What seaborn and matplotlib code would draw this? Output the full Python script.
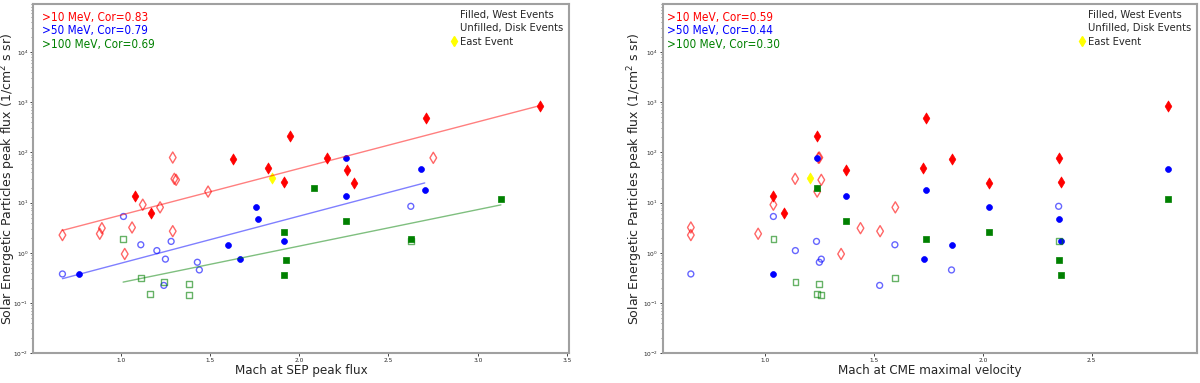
import numpy as np
import pandas as pd
import seaborn as sns
import matplotlib
matplotlib.use('Agg')
import matplotlib.pyplot as plt
from matplotlib.lines import Line2D
from matplotlib import font_manager

# >10 MeV, west (filled) events: peak flux, Mach at SEP peak, Mach at CME max velocity
p10_west_flux = [13.6, 6.3, 73.5, 49, 25.5, 212, 76, 45, 24.4, 486, 832]
p10_west_xsep = [1.082, 1.171, 1.627, 1.827, 1.917, 1.947, 2.156, 2.266, 2.305, 2.712, 3.349]
p10_west_xcme = [1.038, 1.089, 1.856, 1.726, 2.36, 1.239, 2.348, 1.37, 2.028, 1.737, 2.848]
# >10 MeV, disk (unfilled) events
p10_disk_flux = [2.26, 2.4, 3.1, 3.2, 0.95, 9.1, 8.05, 79, 29.8, 28.4, 2.7, 16.6, 78]
p10_disk_xsep = [0.673, 0.882, 0.894, 1.063, 1.022, 1.123, 1.22, 1.291, 1.30, 1.31, 1.291, 1.489, 2.751]
p10_disk_xcme = [0.659, 0.968, 1.438, 0.659, 1.349, 1.038, 1.598, 1.249, 1.138, 1.258, 1.528, 1.239, 1.245]
# >10 MeV, east event
p10_east_flux = [31]
p10_east_xsep = [1.848]
p10_east_xcme = [1.208]

# >50 MeV
p50_west_flux = [0.38, 1.45, 0.75, 8.3, 4.8, 1.69, 77, 13.6, 47, 17.9]
p50_west_xsep = [0.765, 1.6, 1.668, 1.758, 1.769, 1.917, 2.264, 2.264, 2.684, 2.703]
p50_west_xcme = [1.038, 1.856, 1.73, 2.028, 2.348, 2.36, 1.239, 1.37, 2.848, 1.737]
p50_disk_flux = [0.38, 5.3, 1.45, 1.11, 0.75, 1.69, 0.225, 0.65, 0.457, 8.45]
p50_disk_xsep = [0.673, 1.015, 1.112, 1.202, 1.25, 1.282, 1.241, 1.429, 1.44, 2.625]
p50_disk_xcme = [0.659, 1.038, 1.596, 1.139, 1.258, 1.236, 1.526, 1.249, 1.856, 2.348]

# >100 MeV
p100_west_flux = [19.7, 4.3, 11.8, 2.63, 0.72, 0.363, 1.9]
p100_west_xsep = [2.085, 2.264, 3.13, 1.917, 1.926, 1.917, 2.625]
p100_west_xcme = [1.239, 1.37, 2.848, 2.028, 2.348, 2.36, 1.737]
p100_disk_flux = [1.9, 0.316, 0.151, 0.26, 0.24, 0.145, 1.75]
p100_disk_xsep = [1.013, 1.112, 1.162, 1.241, 1.381, 1.381, 2.625]
p100_disk_xcme = [1.038, 1.598, 1.239, 1.139, 1.249, 1.258, 2.348]

cor_sep = ['0.83', '0.79', '0.69']
cor_cme = ['0.59', '0.44', '0.30']
energy_labels = ['>10 MeV', '>50 MeV', '>100 MeV']
colors = ['red', 'blue', 'green']
markers = ['d', 'o', 's']
msizes = [32, 18, 17]

sns.set_theme(style='white')
plt.rcParams['font.family'] = ['DejaVu Sans']

# pick a narrow face for the horizontal texts if one is installed
names = {(f.name, f.stretch) for f in font_manager.fontManager.ttflist}
if any(n == 'Liberation Sans Narrow' for n, _ in names):
    narrow = {'family': 'Liberation Sans Narrow'}
elif ('DejaVu Sans', 'condensed') in names:
    narrow = {'family': 'DejaVu Sans', 'stretch': 'condensed'}
else:
    narrow = {'family': 'Liberation Sans'}

series = [
    (p10_west_flux, p10_west_xsep, p10_west_xcme, p10_disk_flux, p10_disk_xsep, p10_disk_xcme),
    (p50_west_flux, p50_west_xsep, p50_west_xcme, p50_disk_flux, p50_disk_xsep, p50_disk_xcme),
    (p100_west_flux, p100_west_xsep, p100_west_xcme, p100_disk_flux, p100_disk_xsep, p100_disk_xcme),
]

fig = plt.figure(figsize=(12, 3.83), dpi=100)
ax1 = fig.add_axes([0.0278, 0.0775, 0.4466, 0.912])
ax2 = fig.add_axes([0.5523, 0.0775, 0.4455, 0.912])


def draw_panel(ax, which, cors, xlabel, xlim, fit, tx, ylab_x):
    for i, s in enumerate(series):
        wf, wsep, wcme, df_, dsep, dcme = s
        wx = wsep if which == 'sep' else wcme
        dx = dsep if which == 'sep' else dcme
        west = pd.DataFrame({'x': wx, 'y': wf})
        disk = pd.DataFrame({'x': dx, 'y': df_})
        sns.scatterplot(data=disk, x='x', y='y', ax=ax, marker=markers[i], s=msizes[i],
                        facecolor='none', edgecolor=colors[i], linewidth=1.0, alpha=0.6)
        sns.scatterplot(data=west, x='x', y='y', ax=ax, marker=markers[i], s=msizes[i],
                        color=colors[i], edgecolor=colors[i], linewidth=0.5)
        if fit:
            allx = np.array(wx + dx)
            ally = np.array(wf + df_)
            if i == 0:
                ex = p10_east_xsep if which == 'sep' else p10_east_xcme
                allx = np.append(allx, ex)
                ally = np.append(ally, p10_east_flux)
            k, b = np.polyfit(allx, np.log10(ally), 1)
            xs = np.array([allx.min(), allx.max()])
            line = pd.DataFrame({'x': xs, 'y': 10 ** (k * xs + b)})
            sns.lineplot(data=line, x='x', y='y', ax=ax, color=colors[i], alpha=0.5, lw=1)
    ex = p10_east_xsep if which == 'sep' else p10_east_xcme
    east = pd.DataFrame({'x': ex, 'y': p10_east_flux})
    sns.scatterplot(data=east, x='x', y='y', ax=ax, marker='d', s=32, color='yellow',
                    edgecolor='yellow', linewidth=0.5)

    ax.set_yscale('log')
    ax.set_ylim(1e-2, 9e4)
    ax.set_xlim(*xlim)
    ax.set_xlabel(xlabel, fontsize=9.5, va='center', **narrow)
    ax.xaxis.set_label_coords(0.5, -0.049)
    ax.set_ylabel('Solar Energetic Particles peak flux (1/cm$^2$ s sr)', fontsize=9, va='center')
    ax.yaxis.set_label_coords(ylab_x, 0.5)
    ax.tick_params(axis='both', which='major', labelsize=4.2, length=2.5, width=0.6,
                   direction='out', bottom=True, left=True, pad=1)
    ax.tick_params(axis='y', which='minor', length=1.5, width=0.4, left=True)
    for sp in ax.spines.values():
        sp.set_color('#a0a0a0')
        sp.set_linewidth(1.5)

    for i in range(3):
        ax.text(tx, 0.962 - i * 0.039, f'{energy_labels[i]}, Cor={cors[i]}',
                transform=ax.transAxes, color=colors[i], fontsize=8.5,
                va='center', ha='left', **narrow)

    handles = [Line2D([], [], ls='none'), Line2D([], [], ls='none'),
               Line2D([], [], ls='none', marker='d', color='yellow', markersize=5)]
    prop = dict(narrow)
    prop['size'] = 8
    ax.legend(handles, ['Filled, West Events', 'Unfilled, Disk Events', 'East Event'],
              loc='upper right', frameon=False, prop=prop,
              handlelength=0.4, handletextpad=0.3, labelspacing=0.3,
              borderaxespad=0.3, borderpad=0.25)


draw_panel(ax1, 'sep', cor_sep, 'Mach at SEP peak flux', (0.51, 3.513), True, 0.016, -0.047)
draw_panel(ax2, 'cme', cor_cme, 'Mach at CME maximal velocity', (0.53, 2.985), False, 0.008, -0.051)

fig.savefig('out.png', dpi=100)
